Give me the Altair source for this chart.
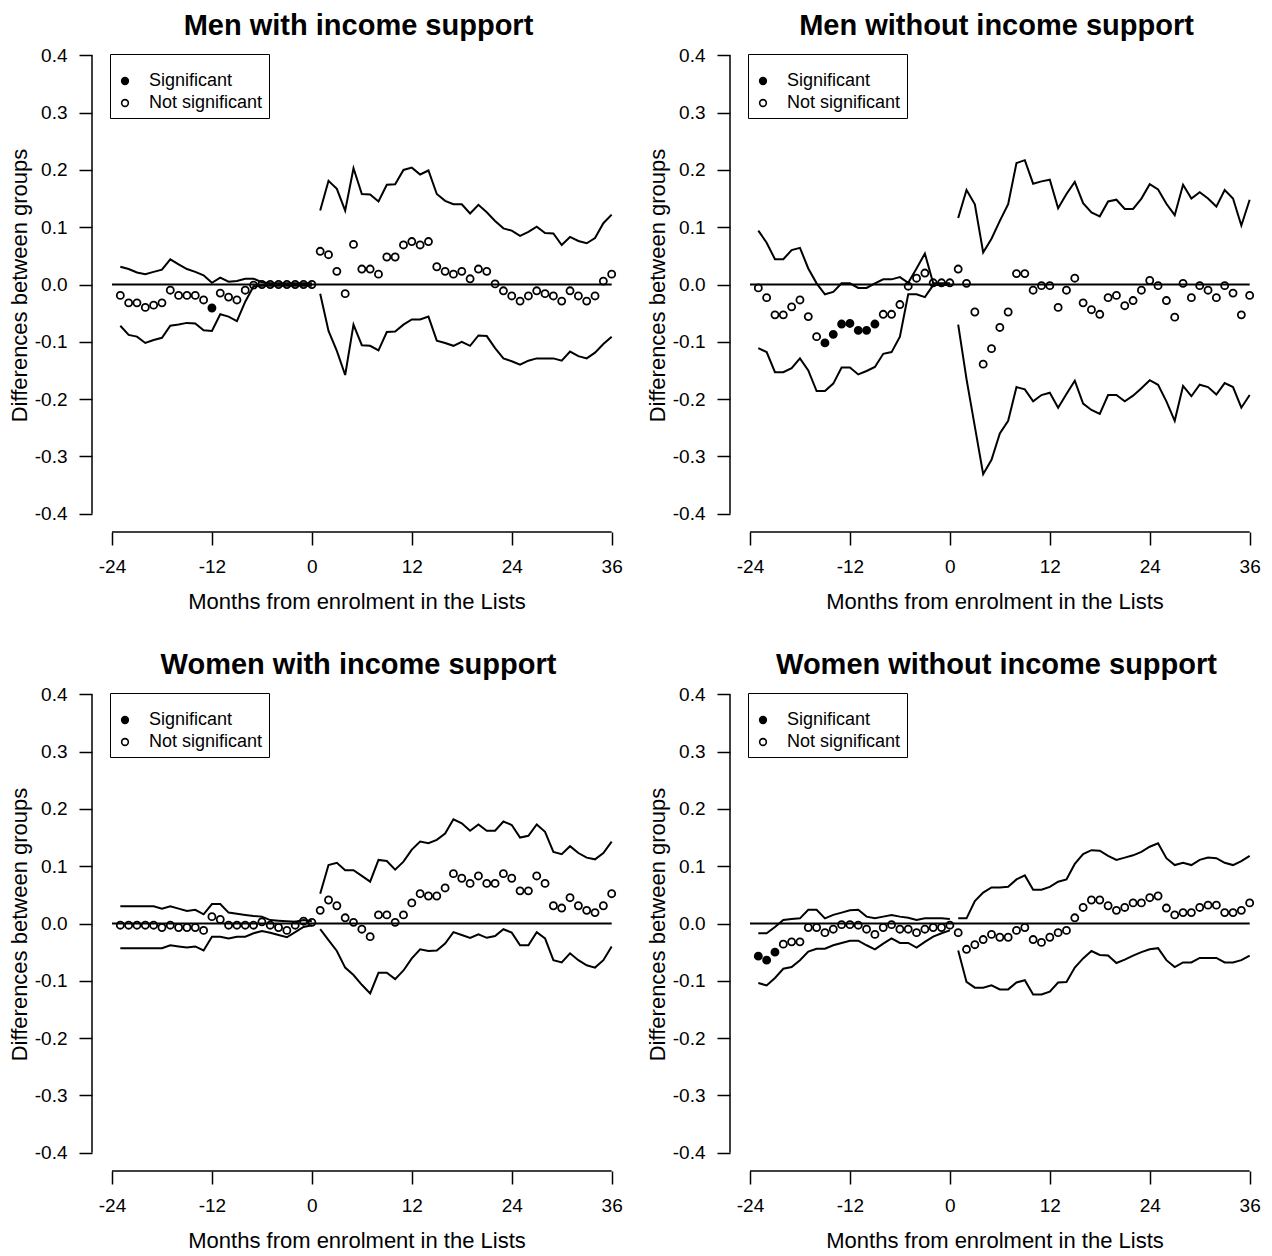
import altair as alt
import pandas as pd

# ---------------- data ----------------
MONTHS_PRE = list(range(-23, 1))
MONTHS_POST = list(range(1, 37))
X_TICKS = [-24, -12, 0, 12, 24, 36]
Y_TICKS = [-0.4, -0.3, -0.2, -0.1, 0.0, 0.1, 0.2, 0.3, 0.4]
SIG_LABELS = ["Significant", "Not significant"]
TITLES = ["Men with income support", "Men without income support",
          "Women with income support", "Women without income support"]

# Men with income support
MIS_EST_PRE = [-0.019, -0.032, -0.032, -0.040, -0.036, -0.032, -0.010, -0.019, -0.019, -0.019, -0.027, -0.041,
               -0.015, -0.022, -0.027, -0.010, -0.001, 0.0, 0.0, 0.0, 0.0, 0.0, 0.0, 0.0]
MIS_EST_POST = [0.058, 0.052, 0.023, -0.016, 0.070, 0.027, 0.027, 0.018, 0.048, 0.048, 0.069, 0.075,
                0.069, 0.075, 0.031, 0.023, 0.018, 0.023, 0.010, 0.027, 0.023, 0.001, -0.011, -0.020,
                -0.029, -0.020, -0.011, -0.016, -0.020, -0.029, -0.011, -0.020, -0.029, -0.020, 0.006, 0.018]
MIS_HI_PRE = [0.031, 0.027, 0.021, 0.018, 0.022, 0.026, 0.044, 0.035, 0.027, 0.022, 0.016, 0.003,
              0.012, 0.005, 0.006, 0.010, 0.010, 0.004, 0.002, 0.002, 0.002, 0.002, 0.002, 0.002]
MIS_HI_POST = [0.129, 0.181, 0.167, 0.129, 0.203, 0.158, 0.157, 0.145, 0.174, 0.175, 0.200, 0.204,
               0.192, 0.199, 0.158, 0.146, 0.140, 0.140, 0.124, 0.139, 0.126, 0.111, 0.098, 0.094,
               0.085, 0.092, 0.101, 0.090, 0.089, 0.069, 0.083, 0.076, 0.072, 0.081, 0.107, 0.122]
MIS_LO_PRE = [-0.072, -0.088, -0.091, -0.102, -0.097, -0.093, -0.072, -0.070, -0.067, -0.068, -0.080, -0.081,
              -0.052, -0.056, -0.064, -0.030, -0.003, -0.002, -0.002, -0.002, -0.002, -0.002, -0.002, -0.002]
MIS_LO_POST = [-0.016, -0.081, -0.116, -0.158, -0.070, -0.106, -0.107, -0.115, -0.083, -0.082, -0.070, -0.061,
               -0.061, -0.056, -0.098, -0.102, -0.107, -0.100, -0.107, -0.089, -0.090, -0.111, -0.129, -0.134,
               -0.140, -0.133, -0.129, -0.129, -0.129, -0.133, -0.117, -0.125, -0.129, -0.119, -0.104, -0.091]
MIS_SIG = [-12]

# Men without income support
MNO_EST_PRE = [-0.006, -0.023, -0.053, -0.053, -0.039, -0.027, -0.056, -0.091, -0.102, -0.087, -0.069, -0.068,
               -0.080, -0.080, -0.069, -0.052, -0.052, -0.035, -0.003, 0.011, 0.020, 0.003, 0.003, 0.003]
MNO_EST_POST = [0.027, 0.002, -0.048, -0.139, -0.112, -0.075, -0.048, 0.019, 0.019, -0.010, -0.002, -0.002,
                -0.040, -0.010, 0.011, -0.032, -0.044, -0.052, -0.023, -0.019, -0.037, -0.028, -0.010, 0.007,
                -0.002, -0.028, -0.057, 0.002, -0.023, -0.002, -0.010, -0.023, -0.002, -0.015, -0.053, -0.019]
MNO_HI_PRE = [0.094, 0.073, 0.044, 0.044, 0.060, 0.064, 0.028, 0.002, -0.017, -0.013, 0.002, 0.002,
              -0.006, -0.006, 0.002, 0.009, 0.009, 0.013, 0.003, 0.028, 0.054, 0.002, 0.002, 0.002]
MNO_HI_POST = [0.116, 0.165, 0.140, 0.056, 0.080, 0.111, 0.140, 0.212, 0.217, 0.176, 0.180, 0.183,
               0.133, 0.158, 0.179, 0.142, 0.126, 0.119, 0.145, 0.148, 0.132, 0.132, 0.150, 0.175,
               0.166, 0.141, 0.121, 0.174, 0.150, 0.161, 0.150, 0.136, 0.165, 0.150, 0.103, 0.148]
MNO_LO_PRE = [-0.111, -0.118, -0.153, -0.153, -0.146, -0.129, -0.150, -0.186, -0.186, -0.173, -0.145, -0.145,
              -0.157, -0.151, -0.144, -0.121, -0.118, -0.091, -0.017, -0.017, -0.022, -0.001, -0.001, -0.001]
MNO_LO_POST = [-0.070, -0.165, -0.248, -0.331, -0.306, -0.260, -0.238, -0.179, -0.183, -0.204, -0.193, -0.189,
               -0.215, -0.191, -0.168, -0.208, -0.219, -0.226, -0.193, -0.193, -0.204, -0.194, -0.181, -0.167,
               -0.175, -0.204, -0.238, -0.177, -0.195, -0.175, -0.179, -0.192, -0.172, -0.179, -0.215, -0.193]
MNO_SIG = [-15, -14, -13, -12, -11, -10, -9]

# Women with income support
WIS_EST_PRE = [-0.003, -0.003, -0.003, -0.003, -0.003, -0.007, -0.003, -0.007, -0.007, -0.007, -0.012, 0.012,
               0.007, -0.003, -0.003, -0.003, -0.003, 0.003, -0.003, -0.007, -0.012, -0.003, 0.004, 0.002]
WIS_EST_POST = [0.023, 0.041, 0.031, 0.010, 0.002, -0.010, -0.023, 0.015, 0.015, 0.002, 0.015, 0.036,
                0.052, 0.048, 0.048, 0.062, 0.087, 0.079, 0.070, 0.083, 0.070, 0.070, 0.087, 0.079,
                0.057, 0.057, 0.083, 0.070, 0.031, 0.027, 0.045, 0.031, 0.023, 0.019, 0.031, 0.052]
WIS_HI_PRE = [0.030, 0.030, 0.030, 0.030, 0.030, 0.026, 0.030, 0.026, 0.022, 0.024, 0.016, 0.034,
              0.034, 0.019, 0.017, 0.015, 0.013, 0.012, 0.006, 0.005, 0.004, 0.003, 0.006, 0.004]
WIS_HI_POST = [0.052, 0.102, 0.106, 0.093, 0.093, 0.083, 0.073, 0.111, 0.109, 0.094, 0.108, 0.129,
               0.143, 0.140, 0.146, 0.157, 0.182, 0.175, 0.162, 0.173, 0.162, 0.162, 0.178, 0.172,
               0.150, 0.153, 0.173, 0.160, 0.125, 0.121, 0.135, 0.123, 0.115, 0.112, 0.123, 0.143]
WIS_LO_PRE = [-0.043, -0.043, -0.043, -0.043, -0.043, -0.043, -0.038, -0.040, -0.042, -0.040, -0.047, -0.023,
              -0.023, -0.026, -0.023, -0.023, -0.017, -0.013, -0.016, -0.020, -0.024, -0.015, -0.006, -0.003]
WIS_LO_POST = [-0.010, -0.029, -0.048, -0.077, -0.090, -0.107, -0.122, -0.086, -0.086, -0.097, -0.082, -0.061,
               -0.045, -0.048, -0.047, -0.035, -0.015, -0.020, -0.025, -0.019, -0.025, -0.022, -0.010, -0.016,
               -0.038, -0.038, -0.015, -0.026, -0.064, -0.068, -0.052, -0.064, -0.073, -0.077, -0.064, -0.040]
WIS_SIG = []

# Women without income support
WNO_EST_PRE = [-0.057, -0.064, -0.050, -0.036, -0.032, -0.032, -0.007, -0.007, -0.016, -0.010, -0.002, -0.002,
               -0.003, -0.010, -0.019, -0.007, -0.002, -0.010, -0.010, -0.016, -0.010, -0.007, -0.007, -0.003]
WNO_EST_POST = [-0.016, -0.045, -0.037, -0.028, -0.019, -0.024, -0.024, -0.012, -0.007, -0.028, -0.033, -0.024,
                -0.016, -0.012, 0.010, 0.028, 0.041, 0.041, 0.031, 0.023, 0.028, 0.036, 0.036, 0.045,
                0.048, 0.027, 0.015, 0.019, 0.019, 0.028, 0.032, 0.032, 0.019, 0.019, 0.023, 0.036]
WNO_HI_PRE = [-0.017, -0.017, -0.006, 0.006, 0.008, 0.009, 0.024, 0.024, 0.009, 0.015, 0.019, 0.023,
              0.024, 0.012, 0.009, 0.012, 0.015, 0.012, 0.010, 0.006, 0.009, 0.009, 0.009, 0.008]
WNO_HI_POST = [0.009, 0.009, 0.039, 0.054, 0.063, 0.063, 0.064, 0.077, 0.084, 0.059, 0.059, 0.064,
               0.073, 0.077, 0.104, 0.121, 0.128, 0.127, 0.118, 0.111, 0.115, 0.119, 0.125, 0.134,
               0.140, 0.114, 0.102, 0.106, 0.102, 0.111, 0.115, 0.114, 0.106, 0.102, 0.109, 0.118]
WNO_LO_PRE = [-0.104, -0.108, -0.095, -0.079, -0.076, -0.064, -0.049, -0.044, -0.044, -0.038, -0.034, -0.030,
              -0.030, -0.038, -0.045, -0.035, -0.026, -0.034, -0.034, -0.042, -0.032, -0.023, -0.017, -0.012]
WNO_LO_POST = [-0.047, -0.102, -0.112, -0.112, -0.108, -0.115, -0.115, -0.103, -0.099, -0.124, -0.124, -0.119,
               -0.103, -0.102, -0.077, -0.061, -0.048, -0.055, -0.056, -0.069, -0.063, -0.056, -0.050, -0.045,
               -0.043, -0.064, -0.076, -0.068, -0.068, -0.060, -0.060, -0.060, -0.068, -0.068, -0.064, -0.056]
WNO_SIG = [-23, -22, -21]

PANELS = [
    (TITLES[0], MIS_EST_PRE, MIS_EST_POST, MIS_HI_PRE, MIS_HI_POST, MIS_LO_PRE, MIS_LO_POST, MIS_SIG),
    (TITLES[1], MNO_EST_PRE, MNO_EST_POST, MNO_HI_PRE, MNO_HI_POST, MNO_LO_PRE, MNO_LO_POST, MNO_SIG),
    (TITLES[2], WIS_EST_PRE, WIS_EST_POST, WIS_HI_PRE, WIS_HI_POST, WIS_LO_PRE, WIS_LO_POST, WIS_SIG),
    (TITLES[3], WNO_EST_PRE, WNO_EST_POST, WNO_HI_PRE, WNO_HI_POST, WNO_LO_PRE, WNO_LO_POST, WNO_SIG),
]

# ---------------- chart ----------------
FONT = "Liberation Sans"
PW, PH = 533, 495
X_SCALE = alt.Scale(domain=[-26.4, 37.6], nice=False, zero=False)
Y_SCALE = alt.Scale(domain=[-0.432, 0.432], nice=False, zero=False)

X_AXIS = alt.Axis(values=X_TICKS, title="Months from enrolment in the Lists",
                  labelExpr="datum.value < 0 ? '-' + format(-datum.value, 'd') : format(datum.value, 'd')",
                  tickSize=13, labelPadding=12, labelFontSize=19, labelFlush=False,
                  titleFontSize=22, titleX=PW / 2 - 2, titleY=76, titleBaseline="alphabetic",
                  titleAnchor="middle")
Y_AXIS = alt.Axis(values=Y_TICKS, title="Differences between groups",
                  labelExpr="datum.value < 0 ? '-' + format(-datum.value, '.1f') : format(datum.value, '.1f')",
                  tickSize=13, labelPadding=12, labelFontSize=19,
                  titleFontSize=22, titleX=-66, titleY=248, titleBaseline="alphabetic",
                  titleAnchor="middle", titleAngle=270)


def panel(title, est_pre, est_post, hi_pre, hi_post, lo_pre, lo_post, sig):
    months = MONTHS_PRE + MONTHS_POST
    pts = pd.DataFrame({
        "month": months,
        "est": est_pre + est_post,
        "sig": [SIG_LABELS[0] if m in sig else SIG_LABELS[1] for m in months],
    })
    rows = []
    for bound, pre, post in (("upper", hi_pre, hi_post), ("lower", lo_pre, lo_post)):
        for m, v in zip(MONTHS_PRE, pre):
            rows.append({"month": m, "value": v, "seg": bound + "-pre"})
        for m, v in zip(MONTHS_POST, post):
            rows.append({"month": m, "value": v, "seg": bound + "-post"})
    lines = pd.DataFrame(rows)
    # axis lines (R-style, spanning the tick range only) and the zero reference line
    guides = pd.DataFrame({
        "x": [-24, -26.4, -24], "x2": [36, -26.4, 36],
        "y": [-0.432, -0.4, 0.0], "y2": [-0.432, 0.4, 0.0],
        "w": [1.5, 1.5, 2.0],
    })

    rules = alt.Chart(guides).mark_rule(color="black").encode(
        x=alt.X("x:Q", scale=X_SCALE, axis=X_AXIS),
        x2="x2:Q",
        y=alt.Y("y:Q", scale=Y_SCALE, axis=Y_AXIS),
        y2="y2:Q",
        strokeWidth=alt.StrokeWidth("w:Q", scale=None, legend=None),
    )
    ci = alt.Chart(lines).mark_line(color="black", strokeWidth=2).encode(
        x=alt.X("month:Q", scale=X_SCALE, axis=X_AXIS),
        y=alt.Y("value:Q", scale=Y_SCALE, axis=Y_AXIS),
        detail="seg:N",
    )
    points = alt.Chart(pts).mark_point(shape="circle", filled=False, stroke="black",
                                       strokeWidth=1.8, size=50, opacity=1).encode(
        x=alt.X("month:Q", scale=X_SCALE, axis=X_AXIS),
        y=alt.Y("est:Q", scale=Y_SCALE, axis=Y_AXIS),
        fill=alt.Fill("sig:N",
                      scale=alt.Scale(domain=SIG_LABELS, range=["black", "transparent"]),
                      legend=alt.Legend(title=" ", titleFontSize=10, titlePadding=2,
                                        orient="none", legendX=18, legendY=17,
                                        strokeColor="black", padding=6, labelFontSize=18,
                                        labelFont=FONT, labelColor="black", symbolSize=45,
                                        symbolType="circle", symbolStrokeColor="black",
                                        symbolStrokeWidth=1.6, labelOffset=15, rowPadding=4,
                                        fillColor="white")),
    )
    return alt.layer(rules, ci, points).properties(
        width=PW, height=PH,
        title=alt.TitleParams(title, fontSize=29, fontWeight="bold", font=FONT, color="black",
                              anchor="middle", frame="group", baseline="alphabetic", offset=-27),
    ).resolve_scale(fill="independent")


charts = [panel(*p) for p in PANELS]

chart = alt.concat(*charts, columns=2, spacing={"row": 144, "column": 105}, bounds="flush").resolve_scale(
    fill="independent").resolve_legend(fill="independent").properties(
    padding={"left": 0, "top": 4, "right": 0, "bottom": 0}
).configure_view(stroke=None).configure_axis(
    grid=False, domain=False, tickColor="black", tickWidth=1.5, labelColor="black", titleColor="black",
    labelFont=FONT, titleFont=FONT, titleFontWeight="normal"
)

chart.save("out.html", embed_options={"renderer": "svg", "actions": False})
